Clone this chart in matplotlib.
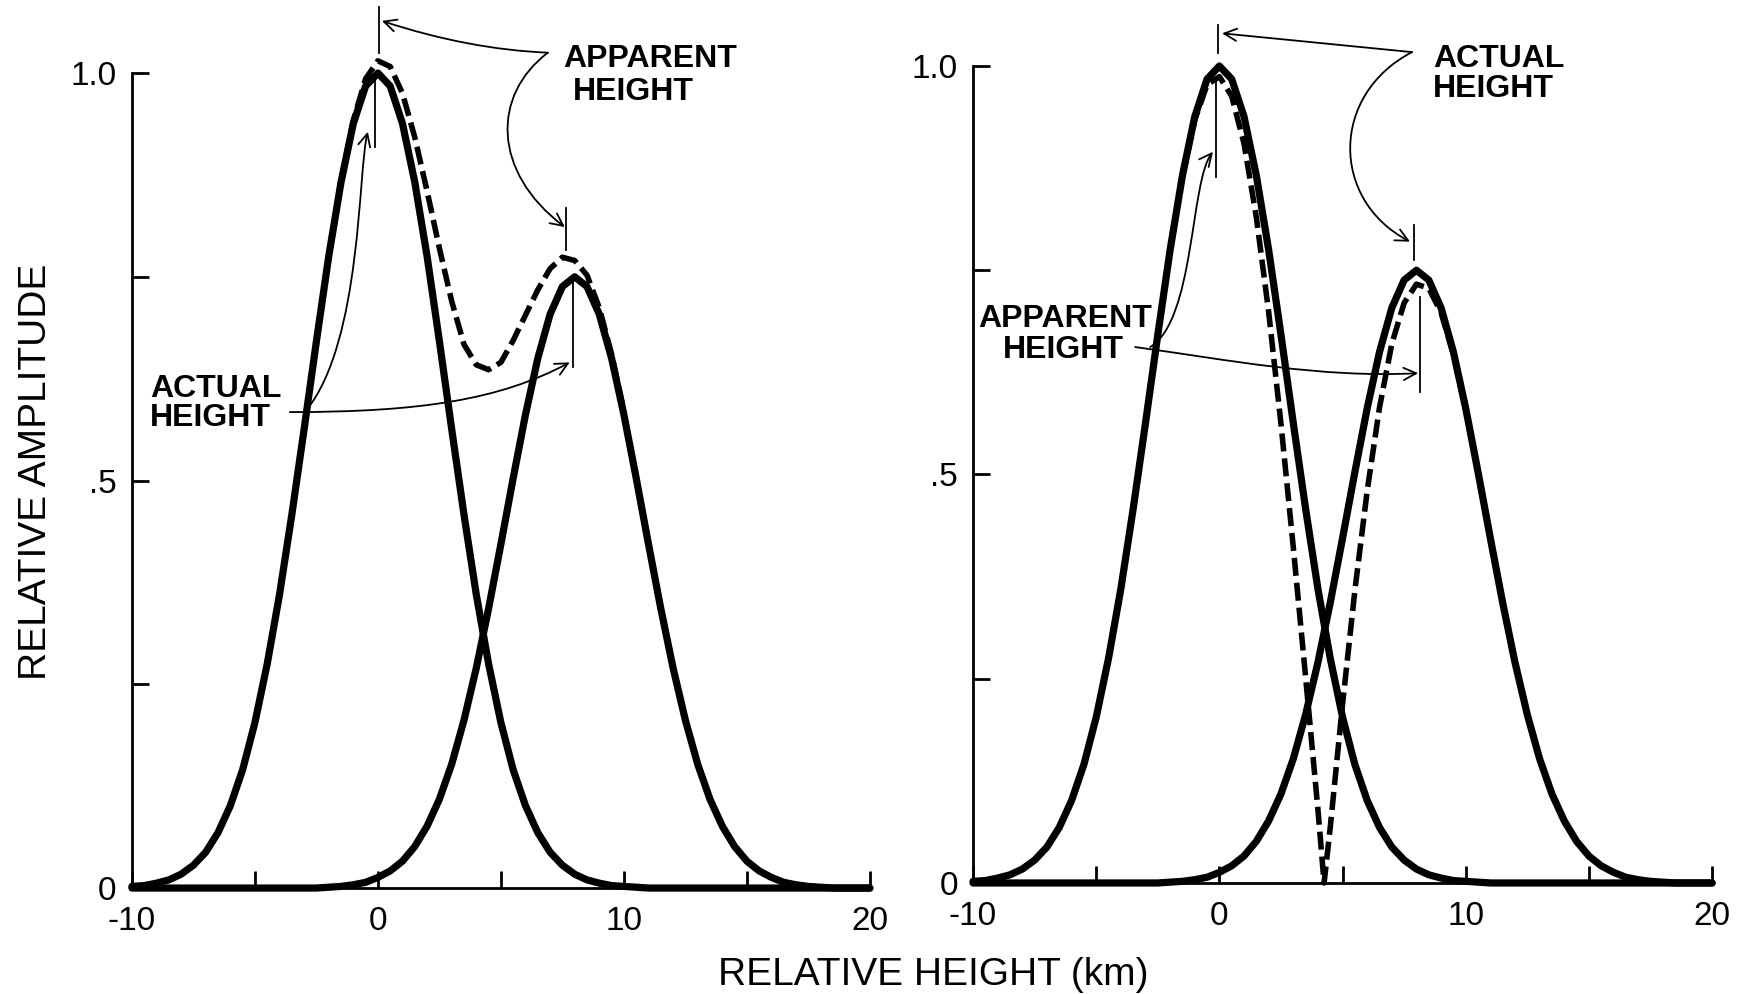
import matplotlib
matplotlib.use("Agg")
import matplotlib.pyplot as plt
from matplotlib.path import Path
from matplotlib.patches import FancyArrowPatch

plt.rcParams["font.family"] = ["Liberation Sans", "DejaVu Sans"]
plt.rcParams["lines.scale_dashes"] = False

# relative height grid (km)
HEIGHT_KM = [-10.0, -9.5, -9.0, -8.5, -8.0, -7.5, -7.0, -6.5, -6.0, -5.5,
             -5.0, -4.5, -4.0, -3.5, -3.0, -2.5, -2.0, -1.5, -1.0, -0.5,
             0.0, 0.5, 1.0, 1.5, 2.0, 2.5, 3.0, 3.5, 4.0, 4.5,
             5.0, 5.5, 6.0, 6.5, 7.0, 7.5, 8.0, 8.5, 9.0, 9.5,
             10.0, 10.5, 11.0, 11.5, 12.0, 12.5, 13.0, 13.5, 14.0, 14.5,
             15.0, 15.5, 16.0, 16.5, 17.0, 17.5, 18.0, 18.5, 19.0, 19.5, 20.0]

# echo from the lower layer (peak at 0 km)
LOWER_ECHO = [0.002, 0.003, 0.006, 0.010, 0.017, 0.028, 0.044, 0.068, 0.101, 0.145,
              0.203, 0.275, 0.360, 0.458, 0.563, 0.671, 0.775, 0.866, 0.938, 0.984,
              1.000, 0.984, 0.938, 0.866, 0.775, 0.671, 0.563, 0.458, 0.360, 0.275,
              0.203, 0.145, 0.101, 0.068, 0.044, 0.028, 0.017, 0.010, 0.006, 0.003,
              0.002, 0.001, 0.000, 0.000, 0.000, 0.000, 0.000, 0.000, 0.000, 0.000,
              0.000, 0.000, 0.000, 0.000, 0.000, 0.000, 0.000, 0.000, 0.000, 0.000, 0.000]

# echo from the upper layer (peak at 8 km)
UPPER_ECHO = [0.000, 0.000, 0.000, 0.000, 0.000, 0.000, 0.000, 0.000, 0.000, 0.000,
              0.000, 0.000, 0.000, 0.000, 0.000, 0.000, 0.001, 0.002, 0.004, 0.007,
              0.013, 0.021, 0.033, 0.051, 0.076, 0.109, 0.152, 0.206, 0.270, 0.343,
              0.422, 0.503, 0.581, 0.650, 0.704, 0.738, 0.750, 0.738, 0.704, 0.650,
              0.581, 0.503, 0.422, 0.343, 0.270, 0.206, 0.152, 0.109, 0.076, 0.051,
              0.033, 0.021, 0.013, 0.007, 0.004, 0.002, 0.001, 0.000, 0.000, 0.000, 0.000]

# combined return, in phase (left panel, dashed)
INPHASE_KM = [-1.5, -1.0, -0.5, 0.0, 0.5, 1.0, 1.5, 2.0, 2.5, 3.0, 3.5, 4.0,
              4.5, 5.0, 5.5, 6.0, 6.5, 7.0, 7.5, 8.0, 8.5, 9.0, 9.5, 10.0]
INPHASE_AMP = [0.868, 0.942, 0.993, 1.015, 1.008, 0.975, 0.921, 0.855, 0.785, 0.720, 0.667, 0.642,
               0.636, 0.645, 0.672, 0.703, 0.734, 0.760, 0.774, 0.770, 0.752, 0.712, 0.655, 0.585]

# combined return, out of phase (right panel, dashed)
OUTPHASE_KM = [-1.5, -1.0, -0.5, 0.0, 0.5, 1.0, 1.5, 2.0, 2.5, 3.0, 3.5, 4.0, 4.25,
               4.5, 5.0, 5.5, 6.0, 6.5, 7.0, 7.5, 8.0, 8.5, 9.0, 9.5, 10.0]
OUTPHASE_AMP = [0.864, 0.934, 0.977, 0.987, 0.963, 0.905, 0.815, 0.699, 0.562, 0.411, 0.252, 0.090, 0.000,
                0.068, 0.219, 0.358, 0.480, 0.582, 0.660, 0.710, 0.733, 0.728, 0.698, 0.647, 0.579]

X_TICKS = [-10, -5, 0, 5, 10, 15, 20]
X_LABELS = ["-10", "", "0", "", "10", "", "20"]
Y_TICKS = [0, 0.25, 0.5, 0.75, 1.0]
Y_LABELS = ["0", "", ".5", "", "1.0"]


def style_axes(ax):
    ax.set_xlim(-10, 20)
    ax.set_ylim(0, 1)
    ax.patch.set_visible(False)
    for side in ("top", "right"):
        ax.spines[side].set_visible(False)
    for side in ("left", "bottom"):
        ax.spines[side].set_linewidth(2)
    ax.set_xticks(X_TICKS)
    ax.set_xticklabels(X_LABELS)
    ax.set_yticks(Y_TICKS)
    ax.set_yticklabels(Y_LABELS)
    ax.tick_params(direction="in", length=12, width=2, labelsize=24)
    ax.tick_params(axis="x", pad=13)
    ax.tick_params(axis="y", pad=11)


def arrow(ax, pts):
    # 2 points: straight, 3: quadratic, 4: cubic bezier
    kind = {2: Path.LINETO, 3: Path.CURVE3, 4: Path.CURVE4}[len(pts)]
    codes = [Path.MOVETO] + [kind] * (len(pts) - 1)
    patch = FancyArrowPatch(path=Path(pts, codes), arrowstyle="->,head_length=0.45,head_width=0.22",
                            mutation_scale=20, lw=1.3, color="black",
                            transform=ax.transData, clip_on=False)
    ax.add_patch(patch)


def marker(ax, x, y0, y1):
    ax.plot([x, x], [y0, y1], color="black", lw=1.3, clip_on=False)


def label(ax, x, y, s):
    ax.text(x, y, s, fontsize=23, fontweight="bold", ha="left", va="baseline")


fig = plt.figure(figsize=(17.52, 9.94), dpi=100)
ax1 = fig.add_axes([0.0753, 0.1066, 0.4212, 0.8199])
ax2 = fig.add_axes([0.5554, 0.1117, 0.4218, 0.8219])

for ax in (ax1, ax2):
    style_axes(ax)
    ax.plot(HEIGHT_KM, LOWER_ECHO, color="black", lw=5.2, solid_joinstyle="round",
            solid_capstyle="round", clip_on=False, zorder=3)
    ax.plot(HEIGHT_KM, UPPER_ECHO, color="black", lw=5.2, solid_joinstyle="round",
            solid_capstyle="round", clip_on=False, zorder=3)

ax1.plot(INPHASE_KM, INPHASE_AMP, color="black", lw=4, dashes=(13, 5),
         dash_joinstyle="round", clip_on=False, zorder=2)
ax2.plot(OUTPHASE_KM, OUTPHASE_AMP, color="black", lw=4, dashes=(13, 5),
         dash_joinstyle="round", clip_on=False, zorder=2)

# left panel annotations
marker(ax1, 0.04, 1.025, 1.081)
marker(ax1, -0.12, 0.909, 0.994)
marker(ax1, 7.66, 0.783, 0.834)
marker(ax1, 7.95, 0.639, 0.742)
label(ax1, 7.52, 1.007, "APPARENT")
label(ax1, 7.93, 0.967, "HEIGHT")
label(ax1, -9.27, 0.602, "ACTUAL")
label(ax1, -9.27, 0.567, "HEIGHT")
arrow(ax1, [(6.91, 1.025), (3.70, 1.029), (0.16, 1.064)])
arrow(ax1, [(6.91, 1.025), (4.63, 0.973), (4.63, 0.879), (7.60, 0.811)])
arrow(ax1, [(-3.58, 0.584), (1.71, 0.584), (4.96, 0.599), (7.80, 0.645)])
arrow(ax1, [(-2.89, 0.587), (-0.65, 0.672), (-0.81, 0.881), (-0.41, 0.928)])

# right panel annotations
marker(ax2, -0.05, 1.016, 1.050)
marker(ax2, -0.13, 0.864, 0.985)
marker(ax2, 7.91, 0.763, 0.805)
marker(ax2, 8.15, 0.601, 0.717)
label(ax2, 8.68, 0.999, "ACTUAL")
label(ax2, 8.68, 0.962, "HEIGHT")
label(ax2, -9.80, 0.681, "APPARENT")
label(ax2, -8.78, 0.643, "HEIGHT")
arrow(ax2, [(7.82, 1.017), (0.11, 1.040)])
arrow(ax2, [(7.82, 1.017), (4.50, 0.965), (4.50, 0.836), (7.74, 0.785)])
arrow(ax2, [(-3.42, 0.656), (0.43, 0.640), (4.09, 0.618), (8.07, 0.624)])
arrow(ax2, [(-2.81, 0.656), (-0.99, 0.689), (-1.19, 0.860), (-0.26, 0.895)])

fig.text(0.0205, 0.525, "RELATIVE AMPLITUDE", rotation=90, fontsize=28, ha="center", va="center")
fig.text(0.5325, 0.0191, "RELATIVE HEIGHT (km)", fontsize=28, ha="center", va="center")

fig.savefig("out.png", dpi=100)
